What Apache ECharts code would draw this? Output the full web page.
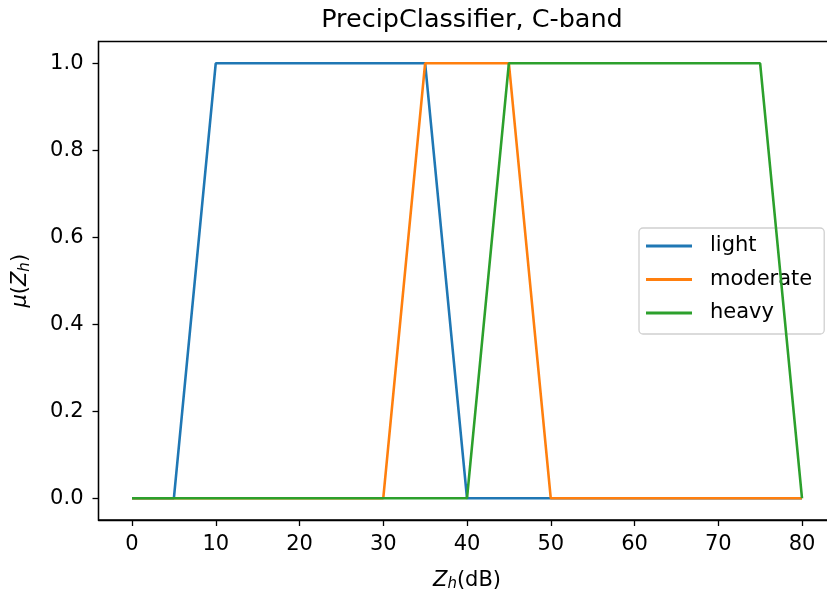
<!DOCTYPE html>
<html>
<head>
<meta charset="utf-8">
<script src="https://cdn.jsdelivr.net/npm/echarts@6/dist/echarts.min.js"></script>
<style>
  html, body { margin: 0; padding: 0; background: #fff; }
  #chart { width: 827px; height: 592px; }
</style>
</head>
<body>
<div id="chart"></div>
<script>
// Membership functions of the precipitation classes (Zh in dB -> mu)
const light = [[0, 0], [5, 0], [10, 1], [35, 1], [40, 0], [80, 0]];
const moderate = [[0, 0], [30, 0], [35, 1], [45, 1], [50, 0], [80, 0]];
const heavy = [[0, 0], [40, 0], [45, 1], [75, 1], [80, 0]];

const seriesNames = ['light', 'moderate', 'heavy'];
const xTicks = [0, 10, 20, 30, 40, 50, 60, 70, 80];
const yTicks = [0, 0.2, 0.4, 0.6, 0.8, 1.0];

const colors = ['#1f77b4', '#ff7f0e', '#2ca02c'];
const font = 'DejaVu Sans';
const fs = 21;

const chart = echarts.init(document.getElementById('chart'), null, { renderer: 'canvas' });

const lineSeries = (name, data, i) => ({
  name: name,
  type: 'line',
  data: data,
  symbol: 'none',
  animation: false,
  lineStyle: { color: colors[i], width: 2.6 },
  itemStyle: { color: colors[i] },
  z: 2 + i
});

chart.setOption({
  backgroundColor: '#fff',
  animation: false,
  title: {
    text: 'PrecipClassifier, C-band',
    left: 467,
    top: 2,
    textAlign: 'center',
    textStyle: { fontFamily: font, fontSize: 25.5, fontWeight: 'normal', color: '#000' }
  },
  grid: {
    left: 98.5,
    top: 41.5,
    width: 737,
    height: 478.5,
    outerBoundsMode: 'none',
    containLabel: false,
    show: true,
    borderColor: '#000',
    borderWidth: 1.3,
    backgroundColor: 'transparent'
  },
  legend: {
    data: seriesNames,
    orient: 'vertical',
    left: 639,
    top: 228,
    icon: 'rect',
    itemWidth: 46,
    itemHeight: 3,
    itemGap: 9.5,
    padding: [6, 12, 9, 7],
    backgroundColor: 'rgba(255,255,255,0.8)',
    borderColor: '#d0d0d0',
    borderWidth: 1.3,
    borderRadius: 4,
    textStyle: {
      fontFamily: font, fontSize: fs, color: '#000',
      lineHeight: 24, padding: [0, 0, 0, 13]
    }
  },
  xAxis: {
    type: 'value',
    min: -4,
    max: 84,
    name: '{z|Z}{s|h}{n|(dB)}',
    nameLocation: 'middle',
    nameGap: 49,
    nameTextStyle: {
      rich: {
        z: { fontFamily: font, fontSize: fs, fontStyle: 'italic', color: '#000' },
        s: { fontFamily: font, fontSize: 15, fontStyle: 'italic', color: '#000', padding: [8, 0, 0, 0] },
        n: { fontFamily: font, fontSize: fs, color: '#000' }
      }
    },
    splitLine: { show: false },
    axisLine: { show: true, onZero: false, lineStyle: { color: '#000', width: 1.3 } },
    axisTick: { show: true, length: 6, lineStyle: { color: '#000', width: 1.3 }, customValues: xTicks },
    axisLabel: {
      customValues: xTicks,
      margin: 14,
      fontFamily: font, fontSize: fs, color: '#000',
      formatter: v => String(v)
    }
  },
  yAxis: {
    type: 'value',
    min: -0.05,
    max: 1.05,
    name: '{m|μ}{n|(}{z|Z}{s|h}{n|)}',
    nameLocation: 'middle',
    nameRotate: 90,
    nameGap: 66,
    nameTextStyle: {
      rich: {
        m: { fontFamily: font, fontSize: fs, fontStyle: 'italic', color: '#000' },
        z: { fontFamily: font, fontSize: fs, fontStyle: 'italic', color: '#000' },
        s: { fontFamily: font, fontSize: 15, fontStyle: 'italic', color: '#000', padding: [8, 0, 0, 0] },
        n: { fontFamily: font, fontSize: fs, color: '#000' }
      }
    },
    splitLine: { show: false },
    axisLine: { show: true, onZero: false, lineStyle: { color: '#000', width: 1.3 } },
    axisTick: { show: true, length: 6, lineStyle: { color: '#000', width: 1.3 }, customValues: yTicks },
    axisLabel: {
      customValues: yTicks,
      margin: 15,
      fontFamily: font, fontSize: fs, color: '#000',
      formatter: v => v.toFixed(1)
    }
  },
  series: [
    lineSeries(seriesNames[0], light, 0),
    lineSeries(seriesNames[1], moderate, 1),
    lineSeries(seriesNames[2], heavy, 2)
  ]
});
</script>
</body>
</html>
